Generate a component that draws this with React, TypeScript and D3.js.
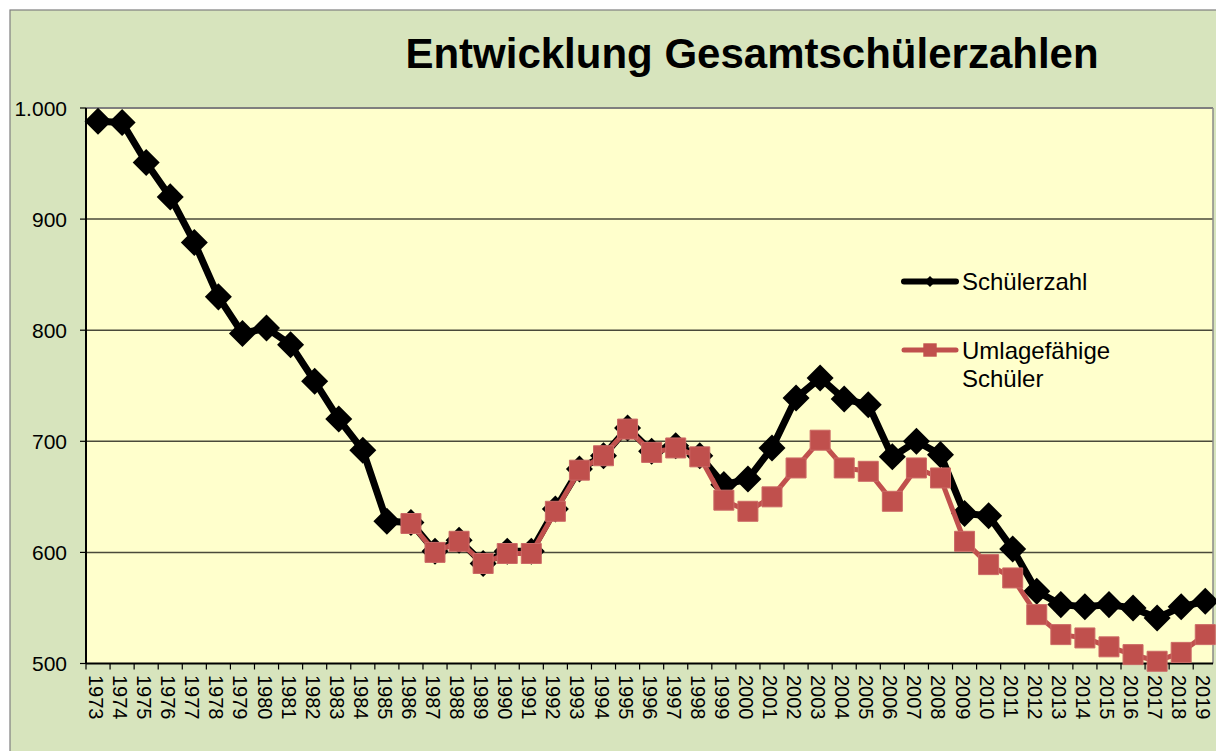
import React, { useEffect } from "react";
import * as d3 from "d3";

const years: number[] = d3.range(1973, 2020);

const schuelerzahl: number[] = [
  988, 987, 951, 920, 879, 830, 797, 802, 787, 754, 720, 692, 628, 627, 601,
  611, 590, 601, 601, 639, 675, 687, 712, 691, 696, 687, 661, 666, 694, 739,
  757, 738, 733, 686, 700, 688, 635, 633, 603, 565, 553, 551, 553, 550, 541,
  551, 556,
];

const umlageYears: number[] = d3.range(1986, 2020);
const umlageSchueler: number[] = [
  626, 600, 610, 590, 599, 599, 637, 674, 687, 711, 690, 694, 686, 647, 637,
  650, 676, 701, 676, 673, 646, 676, 667, 610, 589, 577, 544, 526, 523, 515,
  508, 502, 510, 526,
];

const yTicks: number[] = [500, 600, 700, 800, 900, 1000];
const yTickLabels: string[] = ["500", "600", "700", "800", "900", "1.000"];

const titleText = "Entwicklung Gesamtschülerzahlen";
const legendBlack = "Schülerzahl";
const legendRedLines = ["Umlagefähige", "Schüler"];

const W = 1216;
const H = 751;
const FONT = "'Liberation Sans', Arial, Helvetica, sans-serif";

export default function App() {
  useEffect(() => {
    document.body.style.margin = "0";
  }, []);

  const plotLeft = 86;
  const plotRight = 1213;
  const plotTop = 108;
  const plotBottom = 663.5;

  const x = d3
    .scaleBand<number>()
    .domain(years)
    .range([plotLeft, plotLeft + 47 * 24.07])
    .padding(0);
  const cx = (yr: number) => (x(yr) as number) + x.bandwidth() / 2;
  const y = d3.scaleLinear().domain([500, 1000]).range([plotBottom, plotTop]);

  const line = d3
    .line<[number, number]>()
    .x((d) => cx(d[0]))
    .y((d) => y(d[1]));

  const blackData: [number, number][] = years.map((yr, i) => [yr, schuelerzahl[i]]);
  const redData: [number, number][] = umlageYears.map((yr, i) => [yr, umlageSchueler[i]]);

  const diamond = d3.symbol().type(d3.symbolSquare).size(365)() as string;
  const square = d3.symbol().type(d3.symbolSquare).size(400)() as string;
  const legDiamond = d3.symbol().type(d3.symbolSquare).size(60)() as string;
  const legSquare = d3.symbol().type(d3.symbolSquare).size(180)() as string;

  const red = "#c0504d";

  return (
    <svg
      width={W}
      height={H}
      style={{ position: "absolute", left: 0, top: 0, display: "block" }}
      fontFamily={FONT}
    >
      <rect x={0} y={0} width={W} height={H} fill="#ffffff" />
      <rect x={10} y={10} width={W} height={H} fill="#d7e4bd" stroke="#7f7f7f" strokeWidth={1.2} />

      <text
        x={752}
        y={68}
        textAnchor="middle"
        fontSize={42}
        fontWeight="bold"
        fill="#000"
      >
        {titleText}
      </text>

      {/* plot area */}
      <rect
        x={plotLeft}
        y={plotTop}
        width={plotRight - plotLeft}
        height={plotBottom - plotTop}
        fill="#ffffcc"
      />

      {/* gridlines */}
      {yTicks.slice(1).map((t) => (
        <line
          key={"g" + t}
          x1={plotLeft}
          x2={plotRight}
          y1={y(t)}
          y2={y(t)}
          stroke={t === 1000 ? "#7f7f7f" : "#4a4a3a"}
          strokeWidth={t === 1000 ? 2 : 1.5}
        />
      ))}
      <line x1={plotRight} x2={plotRight} y1={plotTop} y2={plotBottom} stroke="#8a8a8a" strokeWidth={1.5} />

      {/* y axis */}
      <line x1={plotLeft} x2={plotLeft} y1={plotTop} y2={plotBottom} stroke="#000" strokeWidth={2} />
      {yTicks.map((t, i) => (
        <g key={"yt" + t}>
          <line x1={plotLeft - 6} x2={plotLeft} y1={y(t)} y2={y(t)} stroke="#000" strokeWidth={1.2} />
          <text
            x={67}
            y={y(t)}
            dy="0.36em"
            textAnchor="end"
            fontSize={21}
            fill="#000"
          >
            {yTickLabels[i]}
          </text>
        </g>
      ))}

      {/* x axis */}
      <line x1={plotLeft} x2={plotRight} y1={plotBottom} y2={plotBottom} stroke="#000" strokeWidth={2} />
      {years.map((yr) => (
        <line
          key={"xt" + yr}
          x1={x(yr) as number}
          x2={x(yr) as number}
          y1={plotBottom}
          y2={plotBottom + 6}
          stroke="#000"
          strokeWidth={1.2}
        />
      ))}
      {years.map((yr) => (
        <text
          key={"xl" + yr}
          transform={`translate(${cx(yr) - 9},${675}) rotate(90)`}
          textAnchor="start"
          fontSize={20}
          fill="#000"
        >
          {String(yr)}
        </text>
      ))}

      {/* black series */}
      <path
        d={line(blackData) as string}
        fill="none"
        stroke="#000"
        strokeWidth={7}
        strokeLinejoin="round"
      />
      {blackData.map((d) => (
        <path
          key={"bd" + d[0]}
          d={diamond}
          transform={`translate(${cx(d[0])},${y(d[1])}) rotate(45)`}
          fill="#000"
        />
      ))}

      {/* red series */}
      <path
        d={line(redData) as string}
        fill="none"
        stroke={red}
        strokeWidth={5}
        strokeLinejoin="round"
      />
      {redData.map((d) => (
        <path
          key={"rs" + d[0]}
          d={square}
          transform={`translate(${cx(d[0])},${y(d[1])})`}
          fill={red}
          stroke="#cc6a66"
          strokeWidth={1}
        />
      ))}

      {/* legend */}
      <line x1={904} x2={956} y1={281.5} y2={281.5} stroke="#000" strokeWidth={6} strokeLinecap="round" />
      <path d={legDiamond} transform="translate(930,281.5) rotate(45)" fill="#000" />
      <text x={962} y={281.5} dy="0.36em" fontSize={24} fill="#000">
        {legendBlack}
      </text>

      <line x1={904} x2={956} y1={350} y2={350} stroke={red} strokeWidth={5} strokeLinecap="round" />
      <path d={legSquare} transform="translate(930,350)" fill={red} />
      {legendRedLines.map((t, i) => (
        <text key={"lr" + i} x={962} y={350 + i * 28} dy="0.36em" fontSize={24} fill="#000">
          {t}
        </text>
      ))}
    </svg>
  );
}
